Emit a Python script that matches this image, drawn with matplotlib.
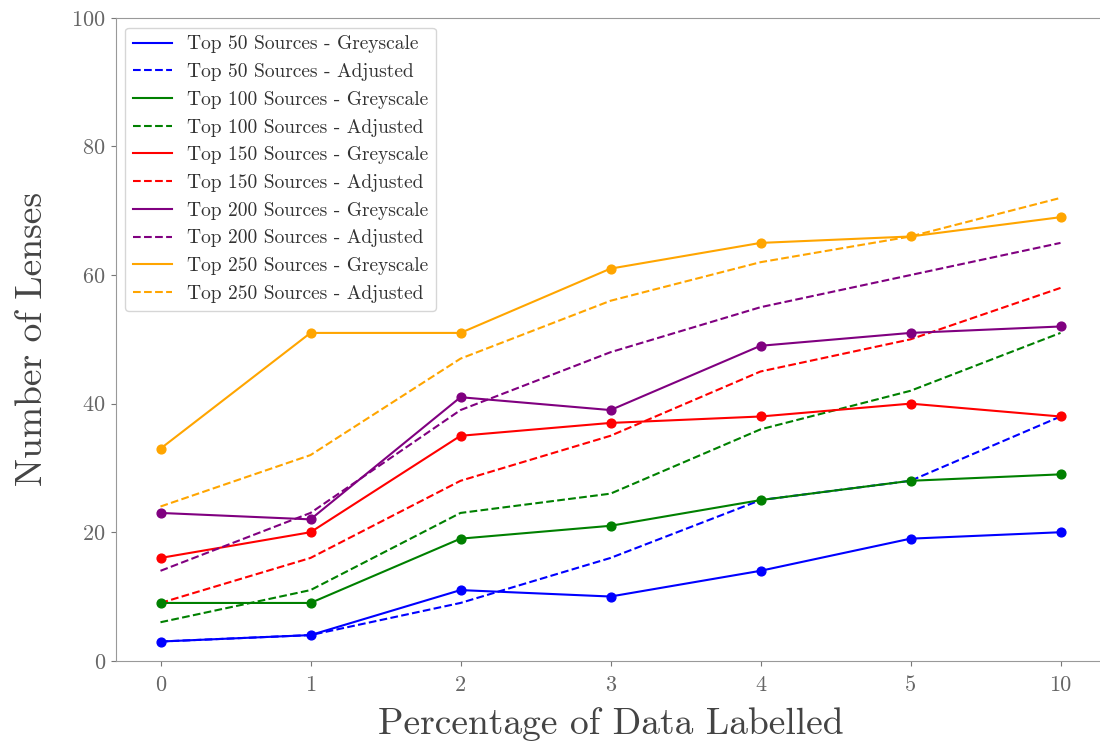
# %%
import numpy as np
import matplotlib
matplotlib.use("Agg")
import matplotlib.pyplot as plt

plt.rcParams['font.family'] = ['cmr10', 'DejaVu Serif']
plt.rcParams['axes.formatter.use_mathtext'] = True

# %%
pct_labels = ['0', '1', '2', '3', '4', '5', '10']
top_n = [50, 100, 150, 200, 250]
colours = ['blue', 'green', 'red', 'purple', 'orange']

grey_50 = [3, 4, 11, 10, 14, 19, 20]
adj_50 = [3, 4, 9, 16, 25, 28, 38]
grey_100 = [9, 9, 19, 21, 25, 28, 29]
adj_100 = [6, 11, 23, 26, 36, 42, 51]
grey_150 = [16, 20, 35, 37, 38, 40, 38]
adj_150 = [9, 16, 28, 35, 45, 50, 58]
grey_200 = [23, 22, 41, 39, 49, 51, 52]
adj_200 = [14, 23, 39, 48, 55, 60, 65]
grey_250 = [33, 51, 51, 61, 65, 66, 69]
adj_250 = [24, 32, 47, 56, 62, 66, 72]

greyscale = [grey_50, grey_100, grey_150, grey_200, grey_250]
adjusted = [adj_50, adj_100, adj_150, adj_200, adj_250]

# %%
fig = plt.figure(figsize=(11, 7.45), dpi=100)
ax = fig.add_axes([0.105, 0.113, 0.9, 0.863])
x = np.arange(len(pct_labels))

for n, c, g, a in zip(top_n, colours, greyscale, adjusted):
    ax.plot(x, g, color=c, lw=1.5, label=f'Top {n} Sources - Greyscale')
    ax.scatter(x, g, color=c, s=40, zorder=3)
    ax.plot(x, a, color=c, lw=1.5, ls='--', label=f'Top {n} Sources - Adjusted')

ax.set_xticks(x)
ax.set_xticklabels(pct_labels)
ax.set_xlim(-0.3, 6.3)
ax.set_ylim(0, 100)
ax.tick_params(labelsize=16, colors='#777777', labelcolor='#666666')
ax.tick_params(axis='x', pad=7)
for s in ax.spines.values():
    s.set_color('#999999')
ax.set_xlabel('Percentage of Data Labelled', fontsize=27, color='#444444', labelpad=9)
ax.set_ylabel('Number of Lenses', fontsize=27, color='#444444', labelpad=16)
ax.legend(loc='upper left', fontsize=14, labelcolor='#333333', labelspacing=0.5)

fig.savefig('out.png', dpi=100)
